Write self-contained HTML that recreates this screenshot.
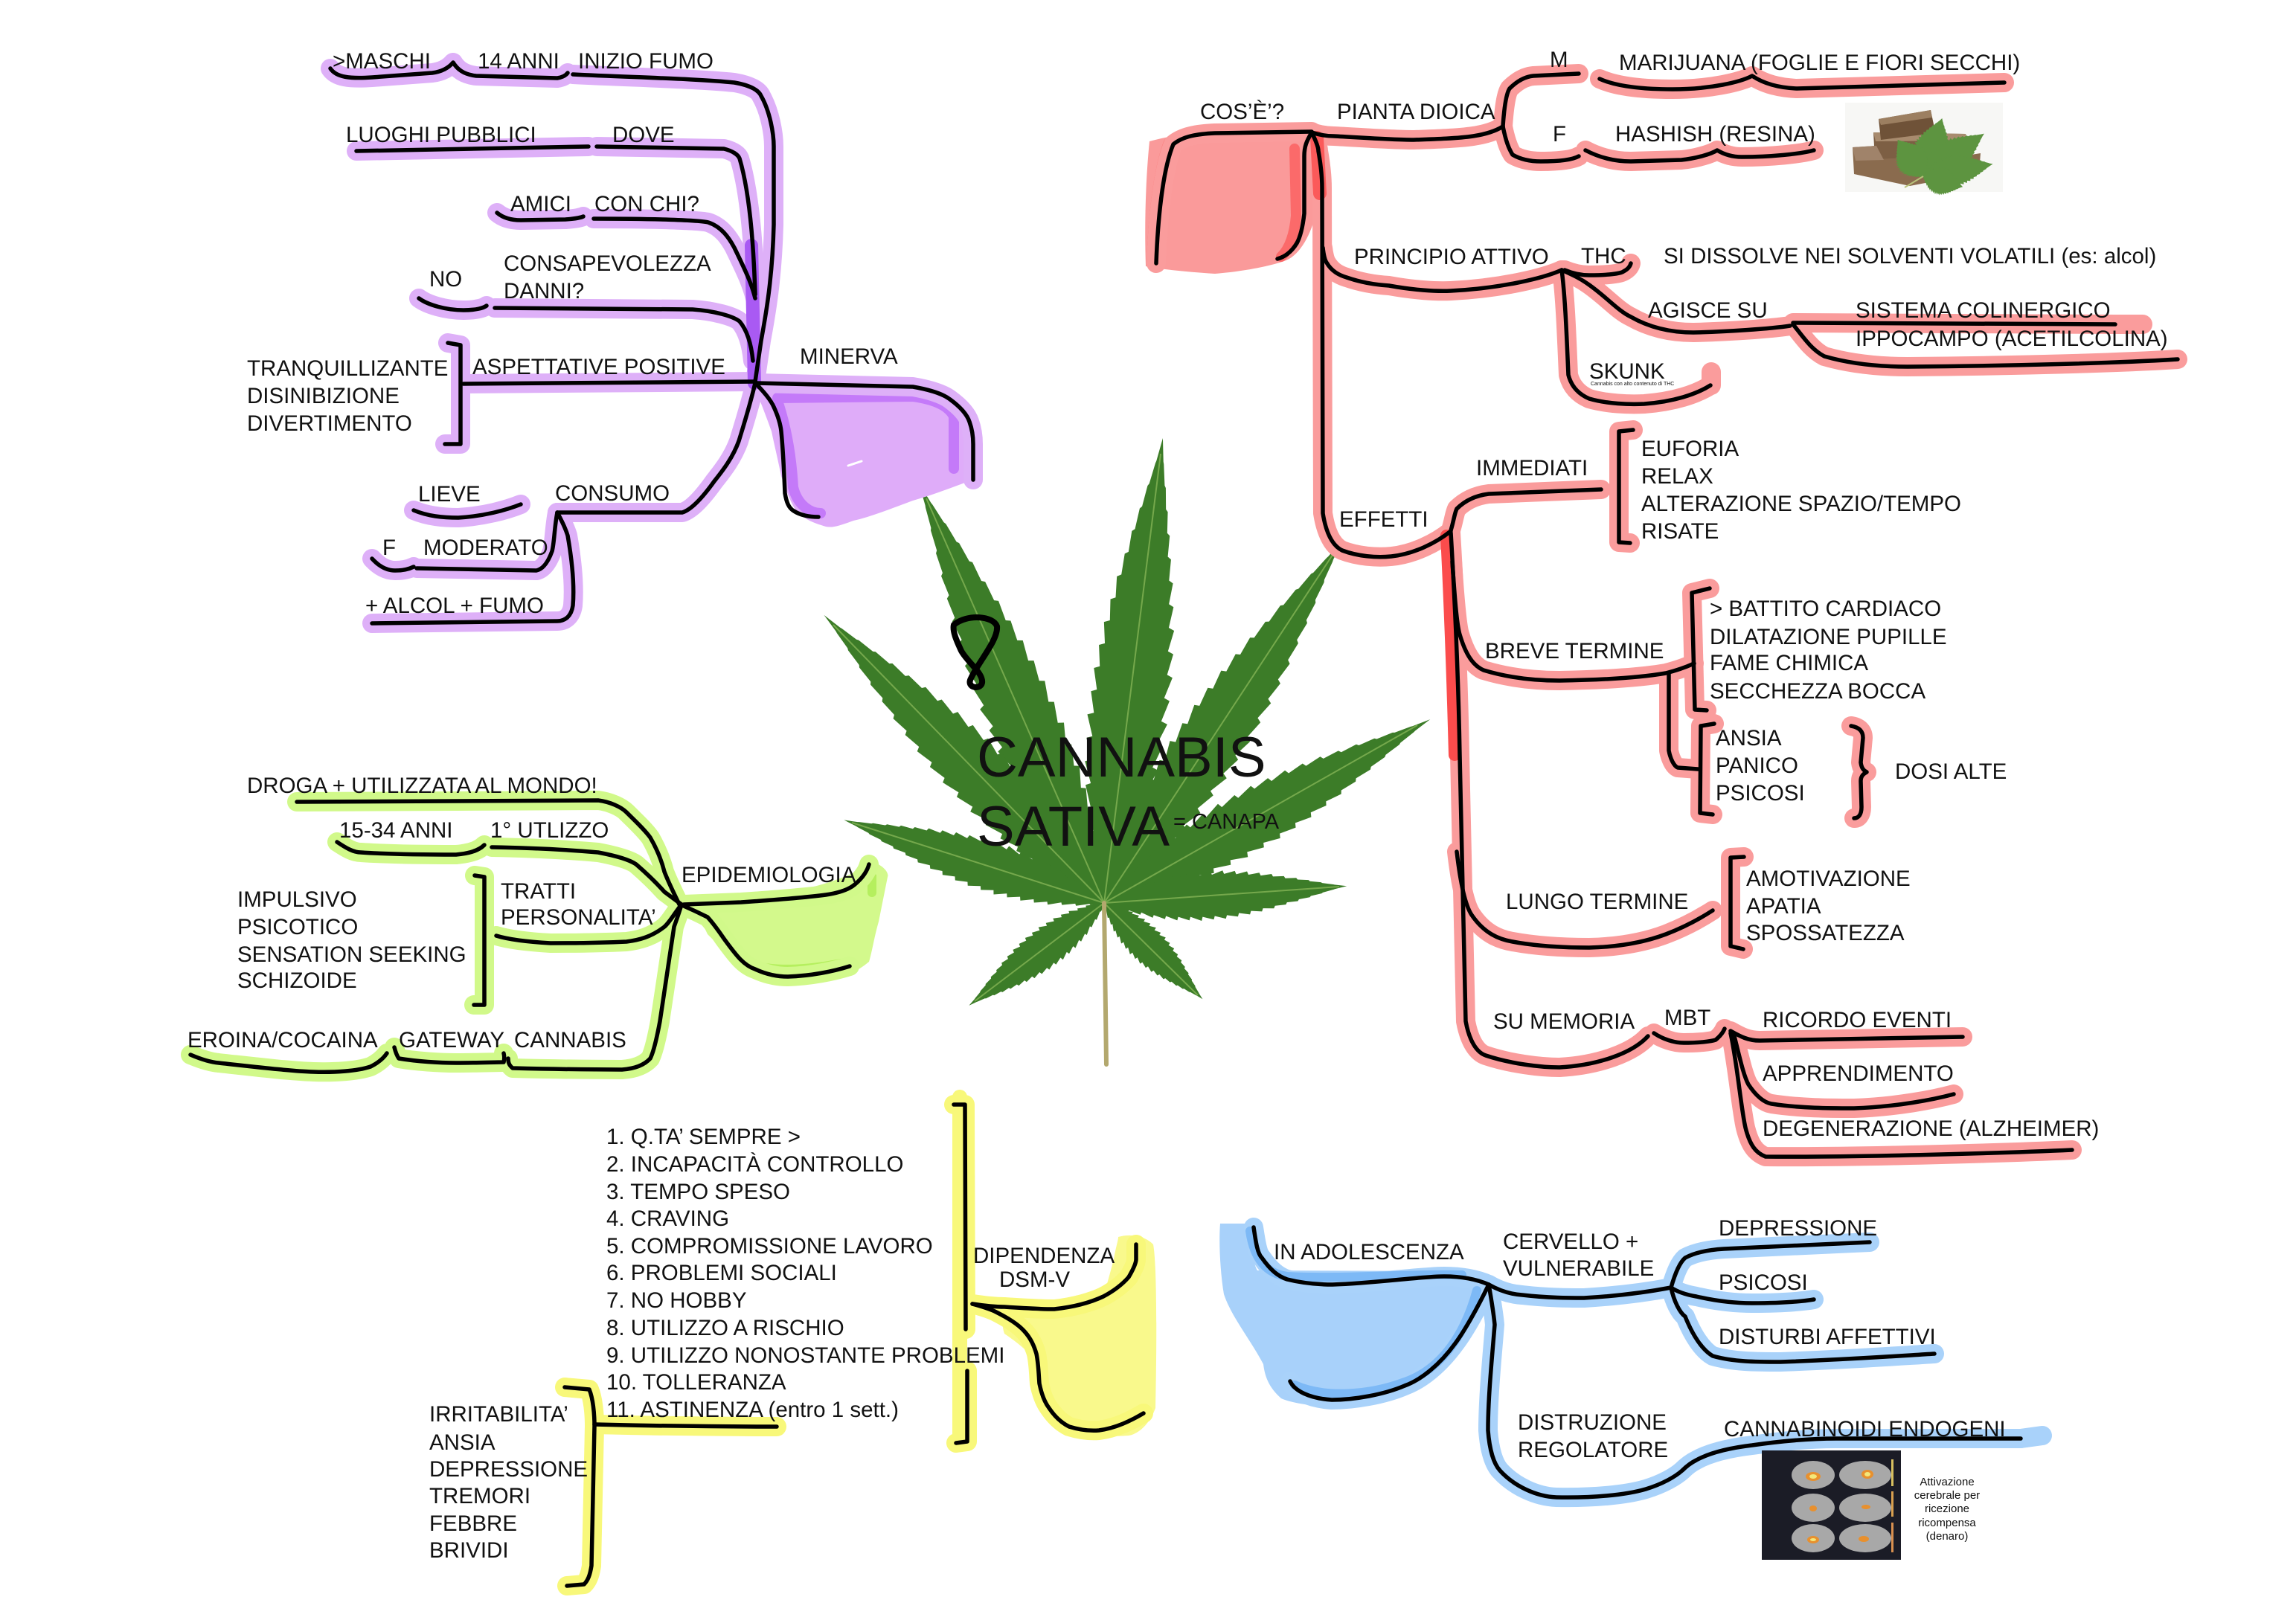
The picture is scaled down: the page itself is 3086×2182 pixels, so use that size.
<!DOCTYPE html>
<html><head><meta charset="utf-8"><title>Cannabis Sativa</title>
<style>
html,body{margin:0;padding:0;background:#fff;}
svg{display:block;}
text{font-family:"Liberation Sans",Arial,sans-serif;fill:#111;}
.t{font-size:29.5px;}
</style></head>
<body>
<svg width="3086" height="2182" viewBox="0 0 3086 2182" xmlns="http://www.w3.org/2000/svg" xmlns:xlink="http://www.w3.org/1999/xlink">
<rect width="3086" height="2182" fill="#fff"/>
<defs>
<path id="lf" d="M0,0 L0,-2.5 L45,-14 L50,-12 L95,-25 L100,-21 L145,-33 L150,-28 L195,-42 L200,-36 L245,-47 L250,-40 L295,-52 L300,-44 L345,-54 L350,-46 L395,-57 L400,-48 L445,-56 L450,-48 L495,-56 L500,-48 L545,-53 L550,-45 L595,-50 L600,-42 L645,-45 L650,-38 L695,-40 L700,-34 L745,-33 L750,-28 L795,-27 L800,-23 L845,-20 L850,-17 L895,-13 L900,-11 L945,-6 L950,-5 L1000,0 L950,5 L945,6 L900,11 L895,13 L850,17 L845,20 L800,23 L795,27 L750,28 L745,33 L700,34 L695,40 L650,38 L645,45 L600,42 L595,50 L550,45 L545,53 L500,48 L495,56 L450,48 L445,56 L400,48 L395,57 L350,46 L345,54 L300,44 L295,52 L250,40 L245,47 L200,36 L195,42 L150,28 L145,33 L100,21 L95,25 L50,12 L45,14 L0,2.5 Z"/>

<!-- purple paths -->
<path id="p1" d="M444,92 C452,104 470,106 500,104 L581,98 C596,96 604,90 609,84 C614,92 622,100 640,102 L749,105 C756,104 760,102 763,98"/>
<path id="p2" d="M770,100 C850,104 940,106 987,111 C1010,115 1020,122 1023,129 C1035,150 1040,180 1040,197 L1040,302 C1038,380 1028,430 1023,458 L1015,513"/>
<path id="p3" d="M479,203 L791,197"/>
<path id="p4" d="M802,197 L973,200 C985,203 992,208 994,213 C1008,260 1013,330 1015,396"/>
<path id="p5" d="M668,286 C675,292 685,296 700,296 L760,295 C775,294 782,292 784,291"/>
<path id="p6" d="M798,294 C880,294 940,296 952,299 C970,305 980,320 987,333 C1000,360 1010,380 1015,401"/>
<path id="p7" d="M563,401 C575,410 600,417 623,417 C640,417 650,414 654,411"/>
<path id="p8" d="M665,414 L931,416 C960,418 985,425 994,432 C1005,445 1010,465 1012,485"/>
<path id="p9" d="M602,461 L619,464 L619,597 L598,597"/>
<path id="p10" d="M623,516 L1015,513"/>
<path id="p11" d="M1017,515 L1227,520 C1250,524 1268,530 1277,537 C1292,548 1300,558 1303,567 C1307,578 1308,588 1308,597 L1308,645"/>
<path id="p12" d="M1015,515 C1028,528 1036,538 1040,547 C1046,560 1049,570 1050,580 C1053,610 1054,640 1055,663 C1057,675 1060,683 1067,687 C1078,694 1090,695 1100,695"/>
<path id="p13" d="M1015,515 C1008,545 1000,570 993,593 C985,615 972,632 960,647 C945,668 930,685 917,689 L749,689"/>
<path id="p14" d="M556,686 C575,694 595,696 616,696 C650,694 680,686 700,678"/>
<path id="p15" d="M749,689 C745,710 745,730 742,741 C737,755 730,765 721,767 L560,764"/>
<path id="p16" d="M500,751 C510,762 520,767 531,767 C545,767 552,764 556,762"/>
<path id="p17" d="M749,689 C755,700 760,710 763,720 C770,760 772,790 770,814 C768,828 760,835 749,835 L500,838"/>

<!-- red paths -->
<path id="r1" d="M1554,354 C1556,300 1562,230 1577,194 C1590,183 1610,180 1633,179 L1763,177"/>
<path id="r2" d="M1763,178 C1775,182 1785,183 1793,183 C1830,185 1870,188 1900,188 C1930,187 1960,186 1980,183 C2000,180 2012,175 2020,170"/>
<path id="r3" d="M2020,170 C2022,140 2025,125 2029,119 C2040,108 2050,103 2061,102 L2122,99"/>
<path id="r4" d="M2020,170 C2024,190 2028,200 2033,208 C2045,215 2060,217 2071,217 C2100,217 2115,214 2122,210"/>
<path id="r5" d="M2150,106 C2170,115 2200,120 2248,120 C2300,120 2340,110 2355,102 C2370,112 2390,118 2415,119 L2694,111"/>
<path id="r6" d="M2131,202 C2150,212 2170,217 2192,217 L2260,215 C2280,213 2300,207 2308,202 C2318,208 2330,211 2341,211 C2380,211 2420,207 2438,202"/>
<path id="r7" d="M1763,178 C1756,190 1753,197 1753,210 L1753,287 C1751,305 1748,318 1743,327 C1735,340 1725,346 1717,348"/>
<path id="r8" d="M1763,178 C1768,188 1772,197 1772,203 C1775,220 1777,240 1777,253 L1778,690 C1782,715 1790,733 1804,740 C1825,748 1850,750 1870,748 C1900,745 1930,730 1950,714"/>
<path id="r9" d="M1778,333 C1779,342 1781,350 1783,353 C1790,365 1800,370 1810,373 C1830,380 1850,383 1867,384 C1900,390 1930,392 1950,391 C1990,389 2020,384 2040,380 C2070,374 2088,368 2099,363"/>
<path id="r10" d="M2103,363 C2115,368 2125,370 2136,370 C2160,370 2178,368 2182,365 C2188,362 2191,358 2192,354"/>
<path id="r11" d="M2099,363 C2115,370 2125,375 2136,383 C2160,400 2175,418 2192,426 C2220,442 2250,447 2276,447 C2320,446 2380,442 2406,438"/>
<path id="r12" d="M2410,434 L2843,436"/>
<path id="r13" d="M2410,436 C2425,455 2435,470 2452,479 C2490,490 2530,493 2564,493 C2700,492 2850,488 2927,483"/>
<path id="r14" d="M2099,363 C2104,400 2106,460 2108,504 C2112,520 2122,530 2136,536 C2160,543 2190,544 2210,543 C2250,540 2280,530 2299,518"/>
<path id="r15" d="M1950,713 C1954,700 1955,690 1958,684 C1970,672 1985,666 2001,664 L2152,658"/>
<path id="r16" d="M2195,578 L2176,580 L2176,729 L2191,730"/>
<path id="r17" d="M1950,716 C1955,800 1960,900 1962,1015 C1965,1150 1968,1300 1970,1373 C1975,1400 1985,1415 1997,1419 C2030,1430 2070,1435 2096,1435 C2150,1432 2195,1415 2215,1393"/>
<path id="r18" d="M1952,755 C1955,800 1958,840 1962,853 C1970,880 1980,895 1994,901 C2030,912 2065,915 2096,915 C2160,914 2210,910 2239,905 C2255,901 2268,896 2277,892"/>
<path id="r19" d="M2243,905 L2243,1009 C2245,1020 2250,1030 2255,1032 L2282,1034"/>
<path id="r20" d="M2298,791 L2274,797 L2278,954 L2294,955"/>
<path id="r21" d="M2304,973 L2286,976 L2285,1093 L2302,1095"/>
<path id="r22" d="M2488,976 C2500,978 2504,984 2504,992 L2501,1025 C2502,1033 2505,1036 2509,1038 C2505,1040 2501,1043 2501,1050 L2502,1085 C2502,1095 2498,1100 2492,1100"/>
<path id="r23" d="M1958,1145 C1962,1180 1968,1215 1978,1230 C1995,1255 2015,1263 2033,1266 C2070,1273 2110,1274 2136,1274 C2180,1273 2215,1265 2239,1256 C2265,1246 2285,1235 2302,1224"/>
<path id="r24" d="M2344,1152 L2326,1153 L2326,1272 L2343,1276"/>
<path id="r25" d="M2223,1389 C2235,1397 2250,1402 2263,1402 C2285,1402 2300,1400 2306,1398 C2312,1393 2316,1388 2318,1383"/>
<path id="r26" d="M2326,1386 C2340,1394 2350,1399 2365,1399 L2638,1394"/>
<path id="r27" d="M2330,1389 C2338,1420 2343,1445 2350,1458 C2360,1473 2370,1482 2381,1484 C2420,1490 2460,1490 2492,1490 C2550,1488 2600,1478 2626,1471"/>
<path id="r28" d="M2326,1389 C2335,1430 2340,1490 2346,1516 C2352,1540 2360,1550 2373,1555 C2500,1556 2700,1550 2785,1546"/>

<!-- blue paths -->
<path id="b1" d="M1685,1650 C1688,1670 1690,1685 1696,1691 C1708,1708 1718,1716 1730,1720 C1750,1725 1770,1727 1791,1727 C1850,1725 1910,1716 1941,1716 C1965,1716 1985,1720 2001,1727"/>
<path id="b2" d="M2001,1727 C1985,1760 1968,1790 1956,1806 C1935,1835 1910,1855 1888,1863 C1860,1875 1820,1882 1790,1882 C1760,1880 1740,1870 1734,1857"/>
<path id="b3" d="M2001,1727 C2015,1735 2030,1740 2046,1741 C2080,1745 2110,1745 2129,1745 C2180,1742 2220,1736 2246,1731"/>
<path id="b4" d="M2246,1731 C2252,1710 2258,1697 2265,1691 C2280,1683 2300,1680 2317,1679 C2400,1675 2470,1672 2513,1670"/>
<path id="b5" d="M2246,1731 C2255,1737 2268,1741 2280,1743 C2310,1750 2335,1752 2355,1752 C2390,1752 2420,1750 2438,1747"/>
<path id="b6" d="M2246,1731 C2250,1750 2258,1765 2265,1770 C2275,1795 2288,1815 2302,1823 C2330,1831 2360,1831 2393,1831 C2480,1828 2550,1823 2600,1820"/>
<path id="b7" d="M2001,1727 C2005,1750 2008,1770 2009,1781 C2005,1830 2000,1880 2000,1923 C2002,1950 2008,1968 2016,1977 C2035,1998 2065,2012 2092,2013 C2140,2014 2185,2010 2212,2002 C2235,1995 2252,1985 2261,1977 C2268,1970 2274,1966 2280,1963 C2300,1952 2330,1946 2355,1943 C2390,1938 2430,1934 2468,1934 L2716,1934"/>

<!-- yellow paths -->
<path id="y1" d="M1282,1485 L1297,1485 L1298,1787"/>
<path id="y1b" d="M1300,1843 L1300,1938 L1285,1940"/>
<path id="y2" d="M1307,1753 C1320,1755 1335,1757 1350,1757 C1380,1759 1400,1760 1417,1760 C1445,1757 1468,1750 1483,1743 C1500,1734 1510,1725 1517,1717 C1524,1705 1527,1698 1527,1693 L1527,1673"/>
<path id="y3" d="M1307,1753 C1318,1756 1328,1759 1337,1763 C1355,1772 1368,1780 1377,1790 C1386,1800 1390,1810 1393,1820 C1396,1835 1396,1848 1397,1860 C1400,1875 1404,1885 1410,1893 C1418,1905 1427,1913 1437,1918 C1450,1922 1465,1924 1477,1923 C1500,1920 1520,1910 1537,1900"/>
<path id="y4" d="M799,1915 C880,1917 960,1918 1044,1918"/>
<path id="y5" d="M759,1865 L792,1868 C797,1880 799,1900 799,1917 L795,2105 C793,2118 790,2125 785,2130 L762,2132"/>

<!-- green paths -->
<path id="g1" d="M399,1078 C500,1078 560,1077 613,1077 L804,1076 C820,1078 835,1085 842,1092 C855,1105 866,1115 874,1126 C885,1145 890,1160 893,1172 C900,1190 908,1205 913,1216"/>
<path id="g2" d="M453,1132 C465,1140 475,1146 485,1146 C530,1149 580,1149 613,1149 C635,1147 645,1142 651,1136"/>
<path id="g3" d="M661,1139 C720,1140 770,1143 804,1146 C825,1150 845,1155 855,1162 C870,1175 885,1190 893,1199 L916,1216"/>
<path id="g4" d="M916,1216 C905,1230 900,1240 893,1246 C875,1260 858,1264 842,1266 C800,1268 765,1268 740,1268 C705,1266 680,1262 667,1258"/>
<path id="g5" d="M638,1177 L651,1179 L651,1351 L637,1351"/>
<path id="g6" d="M916,1216 C912,1230 908,1240 906,1246 C898,1300 892,1340 887,1373 C882,1400 878,1415 874,1423 C865,1433 850,1437 836,1438 C780,1438 730,1437 689,1436 C684,1432 683,1428 683,1423"/>
<path id="g7" d="M530,1408 C532,1416 534,1420 536,1423 C560,1427 590,1429 613,1429 C640,1429 665,1428 677,1428 C678,1424 678,1420 677,1416"/>
<path id="g8" d="M256,1418 C270,1424 282,1428 294,1429 C340,1434 390,1440 421,1441 C450,1442 480,1440 498,1434 C510,1428 516,1422 520,1416"/>
<path id="g9" d="M919,1216 C950,1215 975,1214 996,1213 C1040,1210 1080,1207 1110,1203 C1130,1200 1142,1195 1149,1189 C1160,1180 1166,1170 1168,1162"/>
<path id="g10" d="M919,1218 C935,1225 945,1230 951,1233 C962,1245 970,1258 976,1266 C990,1285 1000,1298 1015,1303 C1030,1310 1045,1313 1059,1313 C1090,1312 1120,1306 1142,1299"/>
</defs>

<!-- ===== LEAF ===== -->
<g fill="#3c7c28">
<use xlink:href="#lf" href="#lf" transform="translate(1484,1214) rotate(-82.8) scale(0.630,0.95)"/>
<use xlink:href="#lf" href="#lf" transform="translate(1484,1214) rotate(-113.8) scale(0.617,0.85)"/>
<use xlink:href="#lf" href="#lf" transform="translate(1484,1214) rotate(-56.7) scale(0.584,0.80)"/>
<use xlink:href="#lf" href="#lf" transform="translate(1484,1214) rotate(-134.2) scale(0.540,0.76)"/>
<use xlink:href="#lf" href="#lf" transform="translate(1484,1214) rotate(-29.4) scale(0.503,0.72)"/>
<use xlink:href="#lf" href="#lf" transform="translate(1484,1214) rotate(-162.3) scale(0.367,0.60)"/>
<use xlink:href="#lf" href="#lf" transform="translate(1484,1214) rotate(-4.0) scale(0.327,0.58)"/>
<use xlink:href="#lf" href="#lf" transform="translate(1484,1214) rotate(142.8) scale(0.228,0.48)"/>
<use xlink:href="#lf" href="#lf" transform="translate(1484,1214) rotate(44.3) scale(0.185,0.44)"/>
</g>
<g stroke="#84b455" stroke-width="2" fill="none" opacity="0.8">
<line x1="1484" y1="1214" x2="1560" y2="610"/>
<line x1="1484" y1="1214" x2="1245" y2="670"/>
<line x1="1484" y1="1214" x2="1795" y2="740"/>
<line x1="1484" y1="1214" x2="1120" y2="840"/>
<line x1="1484" y1="1214" x2="1905" y2="975"/>
<line x1="1484" y1="1214" x2="1145" y2="1106"/>
<line x1="1484" y1="1214" x2="1800" y2="1192"/>
<line x1="1484" y1="1214" x2="1310" y2="1346"/>
<line x1="1484" y1="1214" x2="1610" y2="1338"/>
</g>
<path d="M1484,1214 L1487,1431" stroke="#b3a86e" stroke-width="6" fill="none" stroke-linecap="round"/>

<!-- ===== FILLS ===== -->
<path d="M1020,520 L1227,520 C1260,527 1290,545 1307,567 L1308,645 C1280,655 1255,665 1227,673 C1200,683 1170,695 1147,700 C1130,706 1120,710 1110,708 C1090,702 1080,697 1070,687 C1060,670 1055,655 1050,640 C1045,615 1040,595 1037,580 C1030,560 1022,540 1017,527 Z" fill="#dfacf9"/>
<g fill="none" stroke="#c47af9" stroke-width="14" stroke-linecap="round" stroke-linejoin="round">
<path d="M1045,535 L1227,533 C1255,537 1275,545 1282,560 L1282,630"/>
<path d="M1047,545 C1058,580 1064,620 1066,655 C1072,680 1090,690 1103,690"/>
</g>
<path d="M1545,190 C1600,175 1700,168 1763,168 C1768,220 1770,260 1768,290 C1760,320 1745,345 1726,351 C1700,360 1660,366 1633,368 C1600,366 1560,362 1540,358 C1538,300 1540,240 1545,190 Z" fill="#fa9a9a"/>
<g fill="none" stroke="#fb6a6a" stroke-width="14" stroke-linecap="round" stroke-linejoin="round">
<path d="M1548,354 C1550,300 1556,230 1571,192"/>
<path d="M1740,200 L1742,290 C1740,315 1733,335 1722,345"/>
</g>
<path d="M1640,1645 L1678,1645 C1682,1680 1685,1700 1690,1708 L1971,1709 C1985,1716 1994,1725 1994,1735 C1975,1770 1958,1800 1941,1820 C1920,1845 1905,1860 1888,1870 C1860,1882 1820,1891 1791,1891 C1760,1890 1735,1886 1722,1880 C1705,1865 1700,1850 1698,1834 C1680,1800 1655,1770 1645,1740 C1640,1710 1638,1670 1640,1645 Z" fill="#a8d1fa"/>
<path d="M1357,1750 C1400,1748 1450,1748 1483,1743 C1490,1720 1495,1700 1497,1693 C1500,1675 1503,1668 1503,1663 C1520,1658 1540,1662 1550,1673 C1555,1700 1555,1800 1553,1893 C1545,1915 1530,1928 1517,1930 C1490,1932 1460,1930 1437,1927 C1420,1915 1408,1905 1400,1893 C1394,1870 1392,1845 1390,1827 C1375,1810 1360,1800 1350,1793 C1345,1780 1348,1760 1357,1750 Z" fill="#f9f98c"/>
<path d="M932,1216 C1020,1210 1120,1195 1174,1159 C1190,1165 1195,1175 1193,1179 L1181,1239 C1175,1260 1172,1280 1168,1293 C1150,1308 1130,1316 1110,1319 C1080,1321 1050,1321 1021,1319 C995,1300 970,1275 951,1256 Z" fill="#d3f98c"/>
<g fill="none" stroke="#b5ef5e" stroke-width="12" stroke-linecap="round">
<path d="M960,1235 C975,1260 990,1285 1015,1298 C1040,1305 1080,1305 1130,1295"/>
<path d="M1160,1175 L1172,1180 L1172,1200"/>
</g>

<!-- ===== HIGHLIGHTS ===== -->
<g fill="none" stroke-linecap="round" stroke-linejoin="round" stroke-width="26">
<g stroke="#deb0f8">
<use href="#p1" xlink:href="#p1"/><use href="#p2" xlink:href="#p2"/><use href="#p3" xlink:href="#p3"/><use href="#p4" xlink:href="#p4"/><use href="#p5" xlink:href="#p5"/><use href="#p6" xlink:href="#p6"/><use href="#p7" xlink:href="#p7"/><use href="#p8" xlink:href="#p8"/><use href="#p9" xlink:href="#p9"/><use href="#p10" xlink:href="#p10"/><use href="#p11" xlink:href="#p11"/><use href="#p13" xlink:href="#p13"/><use href="#p14" xlink:href="#p14"/><use href="#p15" xlink:href="#p15"/><use href="#p16" xlink:href="#p16"/><use href="#p17" xlink:href="#p17"/>
</g>
<path d="M1010,330 L1014,515" stroke="#a95af3" stroke-width="18"/>
<g stroke="#fa9c9c">
<use href="#r1" xlink:href="#r1"/><use href="#r2" xlink:href="#r2"/><use href="#r3" xlink:href="#r3"/><use href="#r4" xlink:href="#r4"/><use href="#r5" xlink:href="#r5"/><use href="#r6" xlink:href="#r6"/><use href="#r8" xlink:href="#r8"/><use href="#r9" xlink:href="#r9"/><use href="#r10" xlink:href="#r10"/><use href="#r11" xlink:href="#r11"/><use href="#r12" xlink:href="#r12"/><use href="#r13" xlink:href="#r13"/><use href="#r14" xlink:href="#r14"/><use href="#r15" xlink:href="#r15"/><use href="#r16" xlink:href="#r16"/><use href="#r17" xlink:href="#r17"/><use href="#r18" xlink:href="#r18"/><use href="#r19" xlink:href="#r19"/><use href="#r20" xlink:href="#r20"/><use href="#r21" xlink:href="#r21"/><use href="#r22" xlink:href="#r22"/><use href="#r23" xlink:href="#r23"/><use href="#r24" xlink:href="#r24"/><use href="#r25" xlink:href="#r25"/><use href="#r26" xlink:href="#r26"/><use href="#r27" xlink:href="#r27"/><use href="#r28" xlink:href="#r28"/>
</g>
<path d="M2300,500 L2300,518" stroke="#fa9c9c"/>
<path d="M2843,436 L2880,436" stroke="#fa9c9c"/>
<path d="M1770,185 L1774,260" stroke="#fb5a5a" stroke-width="18"/>
<path d="M1944,720 C1948,800 1952,900 1955,1015" stroke="#fb4c4c" stroke-width="16"/>
<g stroke="#a9d2fa">
<use href="#b1" xlink:href="#b1"/><use href="#b2" xlink:href="#b2"/><use href="#b3" xlink:href="#b3"/><use href="#b4" xlink:href="#b4"/><use href="#b5" xlink:href="#b5"/><use href="#b6" xlink:href="#b6"/><use href="#b7" xlink:href="#b7"/>
</g>
<path d="M2716,1934 L2745,1930" stroke="#a9d2fa"/>
<g stroke="#7db9f6" stroke-width="12">
<path d="M1680,1655 C1685,1690 1700,1712 1730,1716 C1800,1720 1900,1712 1965,1714"/>
<path d="M1985,1735 C1970,1790 1940,1840 1888,1858 C1840,1876 1780,1880 1740,1862"/>
</g>
<g stroke="#f8f87a">
<use href="#y1" xlink:href="#y1"/><use href="#y1b" xlink:href="#y1b"/><use href="#y2" xlink:href="#y2"/><use href="#y3" xlink:href="#y3"/><use href="#y4" xlink:href="#y4"/><use href="#y5" xlink:href="#y5"/>
</g>
<path d="M1290,1475 L1290,1935" stroke="#f8f87a" stroke-width="20"/>
<g stroke="#d1f98a">
<use href="#g1" xlink:href="#g1"/><use href="#g2" xlink:href="#g2"/><use href="#g3" xlink:href="#g3"/><use href="#g4" xlink:href="#g4"/><use href="#g5" xlink:href="#g5"/><use href="#g6" xlink:href="#g6"/><use href="#g7" xlink:href="#g7"/><use href="#g8" xlink:href="#g8"/><use href="#g9" xlink:href="#g9"/><use href="#g10" xlink:href="#g10"/>
</g>
</g>

<!-- ===== BLACK LINES ===== -->
<g fill="none" stroke="#000" stroke-width="5.5" stroke-linecap="round" stroke-linejoin="round">
<use href="#p1" xlink:href="#p1"/><use href="#p2" xlink:href="#p2"/><use href="#p3" xlink:href="#p3"/><use href="#p4" xlink:href="#p4"/><use href="#p5" xlink:href="#p5"/><use href="#p6" xlink:href="#p6"/><use href="#p7" xlink:href="#p7"/><use href="#p8" xlink:href="#p8"/><use href="#p9" xlink:href="#p9"/><use href="#p10" xlink:href="#p10"/><use href="#p11" xlink:href="#p11"/><use href="#p12" xlink:href="#p12"/><use href="#p13" xlink:href="#p13"/><use href="#p14" xlink:href="#p14"/><use href="#p15" xlink:href="#p15"/><use href="#p16" xlink:href="#p16"/><use href="#p17" xlink:href="#p17"/>
<use href="#r1" xlink:href="#r1"/><use href="#r2" xlink:href="#r2"/><use href="#r3" xlink:href="#r3"/><use href="#r4" xlink:href="#r4"/><use href="#r5" xlink:href="#r5"/><use href="#r6" xlink:href="#r6"/><use href="#r7" xlink:href="#r7"/><use href="#r8" xlink:href="#r8"/><use href="#r9" xlink:href="#r9"/><use href="#r10" xlink:href="#r10"/><use href="#r11" xlink:href="#r11"/><use href="#r12" xlink:href="#r12"/><use href="#r13" xlink:href="#r13"/><use href="#r14" xlink:href="#r14"/><use href="#r15" xlink:href="#r15"/><use href="#r16" xlink:href="#r16"/><use href="#r17" xlink:href="#r17"/><use href="#r18" xlink:href="#r18"/><use href="#r19" xlink:href="#r19"/><use href="#r20" xlink:href="#r20"/><use href="#r21" xlink:href="#r21"/><use href="#r22" xlink:href="#r22"/><use href="#r23" xlink:href="#r23"/><use href="#r24" xlink:href="#r24"/><use href="#r25" xlink:href="#r25"/><use href="#r26" xlink:href="#r26"/><use href="#r27" xlink:href="#r27"/><use href="#r28" xlink:href="#r28"/>
<use href="#b1" xlink:href="#b1"/><use href="#b2" xlink:href="#b2"/><use href="#b3" xlink:href="#b3"/><use href="#b4" xlink:href="#b4"/><use href="#b5" xlink:href="#b5"/><use href="#b6" xlink:href="#b6"/><use href="#b7" xlink:href="#b7"/>
<use href="#y1" xlink:href="#y1"/><use href="#y1b" xlink:href="#y1b"/><use href="#y2" xlink:href="#y2"/><use href="#y3" xlink:href="#y3"/><use href="#y4" xlink:href="#y4"/><use href="#y5" xlink:href="#y5"/>
<use href="#g1" xlink:href="#g1"/><use href="#g2" xlink:href="#g2"/><use href="#g3" xlink:href="#g3"/><use href="#g4" xlink:href="#g4"/><use href="#g5" xlink:href="#g5"/><use href="#g6" xlink:href="#g6"/><use href="#g7" xlink:href="#g7"/><use href="#g8" xlink:href="#g8"/><use href="#g9" xlink:href="#g9"/><use href="#g10" xlink:href="#g10"/>
<path d="M1282,840 C1300,825 1335,828 1340,842 C1342,860 1315,890 1305,912 C1298,925 1318,928 1320,918 C1322,905 1300,890 1292,875 C1285,860 1280,848 1282,840 Z" stroke-width="8"/>
</g>
<path d="M1140,626 L1158,620" stroke="#fff" stroke-width="3" stroke-linecap="round"/>

<!-- ===== IMAGES ===== -->
<g>
<rect x="2480" y="138" width="212" height="120" fill="#f7f7f5"/>
<polygon points="2490,198 2522,196 2600,216 2662,206 2660,232 2567,250 2492,234" fill="#8a6b4e"/>
<polygon points="2518,178 2642,180 2650,208 2520,214" fill="#7d5f44"/>
<polygon points="2518,178 2642,180 2644,189 2521,190" fill="#a88b6e"/>
<polygon points="2525,160 2595,148 2600,172 2592,180 2528,188" fill="#6f5238"/>
<polygon points="2525,160 2595,148 2597,158 2528,168" fill="#9c7f61"/>
<polygon points="2490,198 2522,196 2532,215 2494,216" fill="#a0836a"/>
<g fill="#5d9440">
<use href="#lf" xlink:href="#lf" transform="translate(2585,237) rotate(-72) scale(0.082,0.45)"/>
<use href="#lf" xlink:href="#lf" transform="translate(2585,237) rotate(-35) scale(0.100,0.42)"/>
<use href="#lf" xlink:href="#lf" transform="translate(2585,237) rotate(-125) scale(0.060,0.40)"/>
<use href="#lf" xlink:href="#lf" transform="translate(2585,237) rotate(-10) scale(0.095,0.38)"/>
<use href="#lf" xlink:href="#lf" transform="translate(2585,237) rotate(15) scale(0.055,0.34)"/>
</g>
<path d="M2585,237 L2560,252" stroke="#b8c27a" stroke-width="2"/>
</g>
<g>
<rect x="2368" y="1950" width="187" height="147" fill="#1b1c26"/>
<ellipse cx="2437" cy="1983" rx="29" ry="19" fill="#a8a8a8"/>
<ellipse cx="2507" cy="1983" rx="35" ry="19" fill="#a8a8a8"/>
<ellipse cx="2437" cy="2027" rx="29" ry="19" fill="#a8a8a8"/>
<ellipse cx="2507" cy="2027" rx="35" ry="19" fill="#a8a8a8"/>
<ellipse cx="2437" cy="2068" rx="29" ry="19" fill="#a8a8a8"/>
<ellipse cx="2507" cy="2068" rx="35" ry="19" fill="#a8a8a8"/>
<g fill="#e8902e">
<ellipse cx="2437" cy="1985" rx="10" ry="6"/><ellipse cx="2510" cy="1982" rx="8" ry="6"/>
<ellipse cx="2437" cy="2028" rx="5" ry="4"/><ellipse cx="2508" cy="2026" rx="6" ry="3"/>
<ellipse cx="2437" cy="2070" rx="8" ry="5"/><ellipse cx="2505" cy="2069" rx="7" ry="4"/>
</g>
<g fill="#f3e77a">
<ellipse cx="2437" cy="1985" rx="5" ry="3"/><ellipse cx="2510" cy="1982" rx="4" ry="3"/><ellipse cx="2437" cy="2070" rx="4" ry="2"/>
</g>
<rect x="2542" y="1962" width="3" height="36" fill="#d8c060"/>
<rect x="2542" y="2005" width="3" height="34" fill="#d8a050"/>
<rect x="2542" y="2047" width="3" height="40" fill="#d89050"/>
</g>
<g font-size="15" text-anchor="middle">
<text x="2617" y="1997">Attivazione</text>
<text x="2617" y="2015">cerebrale per</text>
<text x="2617" y="2033">ricezione</text>
<text x="2617" y="2052">ricompensa</text>
<text x="2617" y="2070">(denaro)</text>
</g>

<!-- ===== TEXT ===== -->
<g class="t">
<text x="447" y="92">&gt;MASCHI</text>
<text x="642" y="92">14 ANNI</text>
<text x="777" y="92">INIZIO FUMO</text>
<text x="465" y="191">LUOGHI PUBBLICI</text>
<text x="823" y="191">DOVE</text>
<text x="686" y="284">AMICI</text>
<text x="799" y="284">CON CHI?</text>
<text x="577" y="385">NO</text>
<text x="677" y="364">CONSAPEVOLEZZA</text>
<text x="677" y="401">DANNI?</text>
<text x="332" y="505">TRANQUILLIZANTE</text>
<text x="332" y="542">DISINIBIZIONE</text>
<text x="332" y="579">DIVERTIMENTO</text>
<text x="635" y="503">ASPETTATIVE POSITIVE</text>
<text x="1075" y="489">MINERVA</text>
<text x="562" y="674">LIEVE</text>
<text x="746" y="673">CONSUMO</text>
<text x="514" y="746">F</text>
<text x="569" y="746">MODERATO</text>
<text x="491" y="824">+ ALCOL + FUMO</text>
<text x="1613" y="160">COS’È’?</text>
<text x="1797" y="160">PIANTA DIOICA</text>
<text x="2083" y="90">M</text>
<text x="2176" y="94">MARIJUANA (FOGLIE E FIORI SECCHI)</text>
<text x="2087" y="190">F</text>
<text x="2171" y="190">HASHISH (RESINA)</text>
<text x="1820" y="355">PRINCIPIO ATTIVO</text>
<text x="2125" y="354">THC</text>
<text x="2236" y="354">SI DISSOLVE NEI SOLVENTI VOLATILI (es: alcol)</text>
<text x="2215" y="427">AGISCE SU</text>
<text x="2494" y="427">SISTEMA COLINERGICO</text>
<text x="2494" y="465">IPPOCAMPO (ACETILCOLINA)</text>
<text x="2136" y="509">SKUNK</text>
<text x="1800" y="708">EFFETTI</text>
<text x="1984" y="639">IMMEDIATI</text>
<text x="2206" y="613">EUFORIA</text>
<text x="2206" y="650">RELAX</text>
<text x="2206" y="687">ALTERAZIONE SPAZIO/TEMPO</text>
<text x="2206" y="724">RISATE</text>
<text x="1996" y="885">BREVE TERMINE</text>
<text x="2298" y="828">&gt; BATTITO CARDIACO</text>
<text x="2298" y="866">DILATAZIONE PUPILLE</text>
<text x="2298" y="901">FAME CHIMICA</text>
<text x="2298" y="939">SECCHEZZA BOCCA</text>
<text x="2306" y="1002">ANSIA</text>
<text x="2306" y="1039">PANICO</text>
<text x="2306" y="1076">PSICOSI</text>
<text x="2547" y="1047">DOSI ALTE</text>
<text x="2024" y="1222">LUNGO TERMINE</text>
<text x="2347" y="1191">AMOTIVAZIONE</text>
<text x="2347" y="1228">APATIA</text>
<text x="2347" y="1264">SPOSSATEZZA</text>
<text x="2007" y="1383">SU MEMORIA</text>
<text x="2237" y="1378">MBT</text>
<text x="2369" y="1381">RICORDO EVENTI</text>
<text x="2369" y="1453">APPRENDIMENTO</text>
<text x="2369" y="1527">DEGENERAZIONE (ALZHEIMER)</text>
<text x="1712" y="1693">IN ADOLESCENZA</text>
<text x="2020" y="1679">CERVELLO +</text>
<text x="2020" y="1715">VULNERABILE</text>
<text x="2310" y="1661">DEPRESSIONE</text>
<text x="2310" y="1734">PSICOSI</text>
<text x="2310" y="1807">DISTURBI AFFETTIVI</text>
<text x="2040" y="1922">DISTRUZIONE</text>
<text x="2040" y="1959">REGOLATORE</text>
<text x="2317" y="1931">CANNABINOIDI ENDOGENI</text>
<text x="815" y="1538">1. Q.TA’ SEMPRE &gt;</text>
<text x="815" y="1575">2. INCAPACITÀ CONTROLLO</text>
<text x="815" y="1612">3. TEMPO SPESO</text>
<text x="815" y="1648">4. CRAVING</text>
<text x="815" y="1685">5. COMPROMISSIONE LAVORO</text>
<text x="815" y="1721">6. PROBLEMI SOCIALI</text>
<text x="815" y="1758">7. NO HOBBY</text>
<text x="815" y="1795">8. UTILIZZO A RISCHIO</text>
<text x="815" y="1832">9. UTILIZZO NONOSTANTE PROBLEMI</text>
<text x="815" y="1868">10. TOLLERANZA</text>
<text x="815" y="1905">11. ASTINENZA (entro 1 sett.)</text>
<text x="1308" y="1698">DIPENDENZA</text>
<text x="1343" y="1730">DSM-V</text>
<text x="577" y="1911">IRRITABILITA’</text>
<text x="577" y="1949">ANSIA</text>
<text x="577" y="1985">DEPRESSIONE</text>
<text x="577" y="2021">TREMORI</text>
<text x="577" y="2058">FEBBRE</text>
<text x="577" y="2094">BRIVIDI</text>
<text x="332" y="1066">DROGA + UTILIZZATA AL MONDO!</text>
<text x="456" y="1126">15-34 ANNI</text>
<text x="659" y="1126">1° UTLIZZO</text>
<text x="916" y="1186">EPIDEMIOLOGIA</text>
<text x="673" y="1208">TRATTI</text>
<text x="673" y="1243">PERSONALITA’</text>
<text x="319" y="1219">IMPULSIVO</text>
<text x="319" y="1256">PSICOTICO</text>
<text x="319" y="1293">SENSATION SEEKING</text>
<text x="319" y="1328">SCHIZOIDE</text>
<text x="252" y="1408">EROINA/COCAINA</text>
<text x="536" y="1408">GATEWAY</text>
<text x="691" y="1408">CANNABIS</text>
</g>
<text x="2138" y="518" font-size="7">Cannabis con alto contenuto di THC</text>
<text x="1313" y="1044" font-size="76">CANNABIS</text>
<text x="1313" y="1137" font-size="76">SATIVA</text>
<text x="1577" y="1114" font-size="29">= CANAPA</text>
</svg>
</body></html>
